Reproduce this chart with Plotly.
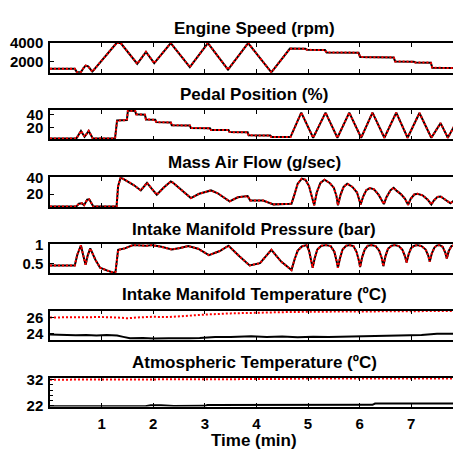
import plotly.graph_objects as go

# ---------------- Engine speed (rpm) ----------------
engine_t = [0.00, 0.48, 0.52, 0.60, 0.65, 0.69, 0.74, 0.82, 1.29, 1.37, 1.69, 1.86, 2.02,
            2.34, 2.71, 3.06, 3.45, 3.84, 4.29, 4.65, 4.95, 4.98, 5.33, 5.36, 5.98, 6.01,
            6.66, 6.69, 7.05, 7.08, 7.38, 7.41, 7.85]
engine_rpm = [1230, 1220, 850, 860, 1300, 1550, 1480, 900, 4000, 4000, 1760, 3050, 1820,
              4000, 1400, 4000, 1120, 4000, 830, 3400, 3390, 3270, 3240, 2990, 2960, 2480,
              2450, 2010, 1980, 1900, 1880, 1320, 1300]

# ---------------- Pedal position (%) ----------------
pedal_t = [0.00, 0.51, 0.60, 0.67, 0.75, 0.83, 1.26, 1.30, 1.49, 1.51, 1.65, 1.67, 1.84, 1.86,
           2.04, 2.06, 2.34, 2.36, 2.71, 2.73, 3.10, 3.12, 3.46, 3.48, 3.83, 3.85, 4.27, 4.29,
           4.66, 4.87, 5.10, 5.34, 5.57, 5.80, 6.03, 6.25, 6.48, 6.71, 6.93, 7.16, 7.39, 7.57,
           7.71, 7.85]
pedal_pct = [4.3, 4.3, 15.5, 7.0, 15.5, 4.3, 4.3, 31.0, 31.5, 45.5, 45.0, 40.0, 39.5, 32.5,
             32.0, 28.5, 28.0, 24.0, 23.5, 20.0, 19.5, 17.0, 16.8, 13.8, 13.5, 9.0, 8.8, 6.5,
             6.5, 42.5, 5.5, 42.5, 5.5, 42.5, 5.5, 42.5, 5.5, 42.5, 5.5, 42.0, 5.5, 27.0,
             5.5, 25.0]

# ---------------- Mass air flow (g/sec) ----------------
maf_t = [0.00, 0.51, 0.56, 0.62, 0.66, 0.72, 0.76, 0.80, 0.84, 1.29, 1.32, 1.37, 1.42, 1.50,
         1.63, 1.76, 1.88, 1.97, 2.07, 2.20, 2.34, 2.38, 2.44, 2.73, 2.89, 3.05, 3.12, 3.25,
         3.48, 3.64, 3.83, 3.88, 4.13, 4.33, 4.68, 4.74, 4.80, 4.88, 4.95, 5.02, 5.08, 5.12,
         5.17, 5.24, 5.32, 5.42, 5.50, 5.55, 5.58, 5.63, 5.69, 5.76, 5.86, 5.95, 6.02, 6.07,
         6.13, 6.20, 6.28, 6.37, 6.47, 6.52, 6.60, 6.66, 6.72, 6.80, 6.88, 6.94, 6.99, 7.06,
         7.12, 7.22, 7.32, 7.39, 7.44, 7.51, 7.57, 7.65, 7.76, 7.85]
maf_gs = [4.3, 4.3, 8.0, 8.5, 6.0, 13.0, 13.5, 8.0, 4.3, 4.3, 30.0, 41.0, 39.0, 36.5,
          31.0, 24.6, 34.2, 27.0, 19.2, 28.0, 35.8, 34.5, 31.0, 15.0, 20.4, 24.0, 24.6, 21.0,
          10.8, 16.0, 17.5, 12.1, 12.0, 7.1, 7.9, 20.0, 33.0, 39.5, 38.0, 30.0, 15.0, 6.0,
          22.0, 34.0, 38.0, 34.0, 28.0, 18.0, 6.0, 19.0, 29.0, 33.0, 29.0, 22.0, 7.0, 17.0,
          25.0, 27.5, 26.0, 19.0, 7.5, 16.0, 25.0, 28.0, 24.0, 20.0, 14.0, 6.5, 14.0, 19.5,
          20.4, 18.5, 13.0, 7.0, 12.0, 16.5, 17.0, 13.5, 8.5, 13.0]

# ---------------- Intake manifold pressure (bar) ----------------
imp_t = [0.00, 0.48, 0.53, 0.60, 0.64, 0.69, 0.73, 0.78, 0.88, 0.97, 1.10, 1.23, 1.27, 1.32,
         1.45, 1.61, 1.87, 1.97, 2.16, 2.36, 2.52, 2.68, 2.87, 3.08, 3.29, 3.46, 3.67, 3.87,
         4.07, 4.29, 4.48, 4.68, 4.74, 4.80, 4.88, 4.97, 5.02, 5.06, 5.09, 5.13, 5.18, 5.26,
         5.35, 5.44, 5.51, 5.55, 5.58, 5.62, 5.67, 5.74, 5.80, 5.88, 5.94, 5.98, 6.01, 6.05,
         6.10, 6.16, 6.23, 6.31, 6.38, 6.43, 6.46, 6.50, 6.55, 6.62, 6.68, 6.76, 6.83, 6.88,
         6.91, 6.95, 7.00, 7.06, 7.12, 7.20, 7.28, 7.33, 7.36, 7.40, 7.45, 7.50, 7.55, 7.61,
         7.66, 7.69, 7.73, 7.78, 7.85]
imp_bar = [0.46, 0.46, 0.75, 0.99, 0.75, 0.48, 0.72, 0.91, 0.61, 0.40, 0.33, 0.27, 0.29,
           0.87, 0.91, 1.00, 0.98, 1.00, 0.95, 0.88, 0.92, 0.97, 0.90, 0.73, 0.84, 0.98,
           0.70, 0.46, 0.52, 0.87, 0.56, 0.34, 0.62, 0.85, 0.96, 1.00, 0.85, 0.60, 0.40,
           0.65, 0.88, 0.98, 1.00, 0.97, 0.82, 0.60, 0.40, 0.65, 0.88, 0.98, 1.00, 0.97,
           0.82, 0.62, 0.42, 0.68, 0.88, 0.98, 1.00, 0.97, 0.85, 0.65, 0.44, 0.70, 0.90,
           0.98, 1.00, 0.97, 0.87, 0.70, 0.54, 0.75, 0.92, 0.98, 1.00, 0.97, 0.88, 0.72,
           0.56, 0.78, 0.93, 0.99, 1.00, 0.95, 0.80, 0.64, 0.85, 0.97, 1.00]

# ---------------- Intake manifold temperature (degC) ----------------
imt_meas_t = [0.00, 0.15, 0.30, 0.50, 0.70, 0.90, 1.10, 1.30, 1.42, 1.55, 1.80, 2.00, 2.30,
              2.50, 2.70, 2.90, 3.00, 3.20, 3.50, 3.90, 4.20, 4.50, 4.80, 5.10, 5.40, 5.80,
              6.20, 6.60, 6.95, 7.20, 7.50, 7.85]
imt_meas = [23.90, 23.85, 23.88, 23.82, 23.86, 23.80, 23.84, 23.78, 23.62, 23.45, 23.48,
            23.42, 23.45, 23.40, 23.44, 23.48, 23.55, 23.60, 23.62, 23.70, 23.62, 23.66,
            23.58, 23.64, 23.60, 23.66, 23.64, 23.70, 23.75, 23.85, 24.00, 24.02]
imt_model_t = [0.00, 0.50, 1.00, 1.30, 1.50, 1.70, 2.00, 2.30, 2.60, 3.00, 3.50, 4.00, 4.50,
               5.00, 5.50, 6.00, 6.50, 7.00, 7.85]
imt_model = [26.00, 26.05, 26.05, 26.00, 25.90, 26.00, 26.08, 26.05, 26.20, 26.35, 26.50,
             26.60, 26.65, 26.70, 26.72, 26.72, 26.75, 26.78, 26.80]

# ---------------- Atmospheric temperature (degC) ----------------
atm_meas_t = [0.00, 1.85, 1.95, 2.15, 2.40, 3.00, 3.05, 6.25, 6.30, 7.85]
atm_meas = [21.75, 21.75, 22.15, 22.15, 21.85, 21.90, 22.25, 22.30, 22.80, 22.85]
atm_model_t = [0.00, 1.00, 1.90, 2.20, 2.60, 3.50, 4.50, 5.00, 6.00, 7.00, 7.85]
atm_model = [32.00, 32.05, 32.00, 31.85, 31.95, 32.20, 32.30, 32.45, 32.45, 32.50, 32.50]

# ---------------- Axis ticks ----------------
time_ticks = [1, 2, 3, 4, 5, 6, 7]
engine_ticks = [2000, 4000]
pedal_ticks = [20, 40]
maf_ticks = [20, 40]
imp_ticks = [0.5, 1]
imt_ticks = [24, 26]
atm_ticks = [22, 32]

panels = [
    ("Engine Speed (rpm)", engine_t, engine_rpm, engine_t, engine_rpm, [780, 4030], engine_ticks),
    ("Pedal Position (%)", pedal_t, pedal_pct, pedal_t, pedal_pct, [2.9, 46.4], pedal_ticks),
    ("Mass Air Flow (g/sec)", maf_t, maf_gs, maf_t, maf_gs, [3.6, 41.2], maf_ticks),
    ("Intake Manifold Pressure (bar)", imp_t, imp_bar, imp_t, imp_bar, [0.25, 1.02], imp_ticks),
    ("Intake Manifold Temperature (ºC)", imt_meas_t, imt_meas, imt_model_t, imt_model,
     [23.25, 26.84], imt_ticks),
    ("Atmospheric Temperature (ºC)", atm_meas_t, atm_meas, atm_model_t, atm_model,
     [21.6, 32.8], atm_ticks),
]

W, H = 453, 452
LEFT = 50
# panel top/bottom in pixels
boxes = [(36, 67), (105.5, 136), (175, 206), (244.3, 274.5), (313, 343.3), (382.3, 412.3)]
title_y = [20.7, 89.3, 160, 229.3, 296.7, 366.7]

FONT = "Liberation Sans, Arial, Helvetica, sans-serif"
fig = go.Figure()
layout = dict(
    width=W, height=H,
    margin=dict(l=LEFT, r=0, t=0, b=0),
    paper_bgcolor="white", plot_bgcolor="white",
    showlegend=False,
    font=dict(family=FONT, size=15, color="black", weight="bold"),
    annotations=[],
)

for i, (title, mt, mv, st, sv, yr, yt) in enumerate(panels):
    n = i + 1
    xa = "x" if n == 1 else f"x{n}"
    ya = "y" if n == 1 else f"y{n}"
    fig.add_trace(go.Scatter(x=mt, y=mv, mode="lines", xaxis=xa, yaxis=ya,
                             line=dict(color="black", width=2)))
    fig.add_trace(go.Scatter(x=st, y=sv, mode="lines", xaxis=xa, yaxis=ya,
                             line=dict(color="#ff0000", width=2, dash="2px,2px")))
    top, bot = boxes[i]
    last = n == len(panels)
    layout["xaxis" if n == 1 else f"xaxis{n}"] = dict(
        domain=[0, 1], anchor=ya, range=[0, 7.81],
        tickvals=time_ticks, ticks="inside", ticklen=4, tickwidth=1, tickcolor="black",
        showline=True, linecolor="black", linewidth=1.5, mirror="ticks",
        showgrid=False, zeroline=False, showticklabels=last,
        tickfont=dict(size=15, weight="bold"), ticklabelstandoff=3,
    )
    yax = dict(
        domain=[1 - bot / H, 1 - top / H], anchor=xa, range=yr,
        tickvals=yt, ticks="inside", ticklen=4, tickwidth=1, tickcolor="black",
        showline=True, linecolor="black", linewidth=1.5, mirror=False,
        showgrid=False, zeroline=False, tickfont=dict(size=15, weight="bold"),
        ticklabelstandoff=2,
    )
    if last:
        yax["minor"] = dict(tick0=22, dtick=2, ticks="inside", ticklen=3, tickcolor="black")
    layout["yaxis" if n == 1 else f"yaxis{n}"] = yax
    layout["annotations"].append(dict(
        text=title, xref="paper", yref="paper", x=(254 - LEFT) / (W - LEFT),
        y=1 - title_y[i] / H, xanchor="center", yanchor="middle", showarrow=False,
        font=dict(size=17, weight="bold", color="black", family=FONT),
    ))

layout["annotations"].append(dict(
    text="Time (min)", xref="paper", yref="paper", x=(254 - LEFT) / (W - LEFT),
    y=0, xanchor="center", yanchor="bottom", showarrow=False, borderpad=0, yshift=-6,
    font=dict(size=17, weight="bold", color="black", family=FONT),
))

fig.update_layout(**layout)
fig.write_html("out.html")
